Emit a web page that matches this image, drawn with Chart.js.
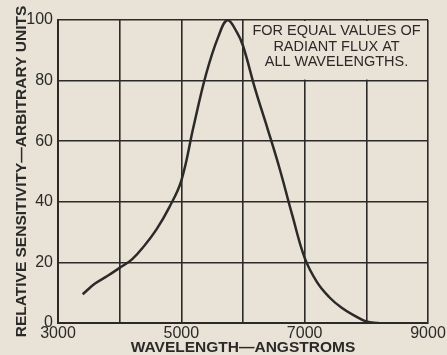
<!DOCTYPE html>
<html>
<head>
<meta charset="utf-8">
<script src="https://cdn.jsdelivr.net/npm/chart.js@4/dist/chart.umd.min.js"></script>
<style>
    html, body { margin: 0; padding: 0; background: #e8e2d7; }
    #wrap { width: 447px; height: 355px; position: relative; }
</style>
</head>
<body>
<div id="wrap"><canvas id="myChart"></canvas></div>
<script>
// wavelength in angstroms
let wavelengths = [3400, 3600, 3800, 4000, 4200, 4400, 4600, 4800, 5000, 5200, 5400, 5600, 5750, 5900, 6000, 6200, 6400, 6600, 6800, 7000, 7200, 7400, 7600, 7800, 8000, 8200]
let sensitivity = [9.5, 13, 15.5, 18.2, 21, 25.5, 31, 38, 47, 65, 82, 94.5, 100, 96, 91.5, 77, 64, 50.5, 35.5, 21.5, 13.5, 8.5, 5, 2.5, 0.5, 0]

let xTickLabels = [3000, 5000, 7000, 9000]
let yTickLabels = [0, 20, 40, 60, 80, 100]
let noteLines = ['FOR EQUAL VALUES OF', 'RADIANT FLUX AT', 'ALL WAVELENGTHS.']

const ink = '#2b2a28'
const paper = '#e8e2d7'

// the top-right cell holds the note, so its grid lines are blanked out
const notePlugin = {
    id: 'note',
    beforeDatasetsDraw: (chart) => {
        let ctx = chart.ctx
        let x = chart.scales.x
        let y = chart.scales.y
        let left = x.getPixelForValue(6000)
        let right = x.getPixelForValue(9000)
        let top = y.getPixelForValue(100)
        let bottom = y.getPixelForValue(80)
        ctx.save()
        ctx.fillStyle = paper
        ctx.fillRect(left + 1, top + 1, right - left - 2, bottom - top - 2)
        ctx.fillStyle = ink
        ctx.font = '14.5px "Liberation Sans"'
        ctx.textAlign = 'center'
        ctx.textBaseline = 'middle'
        let cx = (left + right) / 2 + 1
        noteLines.forEach((line, i) => {
            ctx.fillText(line, cx, top + 11 + i * 15.5)
        })
        ctx.restore()
    }
}

window.addEventListener('DOMContentLoaded', (event) => {
    let ctx = document.getElementById('myChart')
    let points = wavelengths.map((w, i) => ({ x: w, y: sensitivity[i] }))

    let cfg = {
        type: 'line',
        data: {
            datasets: [
                {
                    data: points,
                    borderColor: ink,
                    borderWidth: 2.5,
                    pointRadius: 0,
                    tension: 0.4,
                    fill: false
                }
            ]
        },
        options: {
            responsive: true,
            maintainAspectRatio: false,
            animation: false,
            layout: {
                padding: { top: 20, right: 19, left: 0, bottom: 0 }
            },
            plugins: {
                legend: { display: false },
                tooltip: { enabled: false }
            },
            scales: {
                x: {
                    type: 'linear',
                    min: 3000,
                    max: 9000,
                    afterFit: (scale) => { scale.height = 32 },
                    afterBuildTicks: (scale) => {
                        scale.ticks = [3000, 4000, 5000, 6000, 7000, 8000, 9000].map(v => ({ value: v }))
                    },
                    ticks: {
                        color: ink,
                        font: { family: '"Liberation Sans"', size: 16 },
                        padding: 1,
                        maxRotation: 0,
                        autoSkip: false,
                        callback: (value) => xTickLabels.includes(value) ? String(value) : ''
                    },
                    grid: { color: ink, lineWidth: 1.6, drawTicks: false },
                    border: { color: ink, width: 2 },
                    title: {
                        display: true,
                        text: 'WAVELENGTH—ANGSTROMS',
                        color: ink,
                        font: { family: '"Liberation Sans"', size: 15.5, weight: 'bold', lineHeight: 1 },
                        padding: { top: 0, bottom: 0 }
                    }
                },
                y: {
                    min: 0,
                    max: 100,
                    afterFit: (scale) => { scale.width = 58 },
                    afterBuildTicks: (scale) => {
                        scale.ticks = yTickLabels.map(v => ({ value: v }))
                    },
                    ticks: {
                        color: ink,
                        font: { family: '"Liberation Sans"', size: 16 },
                        padding: 5
                    },
                    grid: { color: ink, lineWidth: 1.6, drawTicks: false },
                    border: { color: ink, width: 2 },
                    title: {
                        display: true,
                        text: 'RELATIVE SENSITIVITY—ARBITRARY UNITS',
                        color: ink,
                        font: { family: '"Liberation Sans"', size: 15.5, weight: 'bold', lineHeight: 1 },
                        padding: { top: 14, bottom: 0 }
                    }
                }
            }
        },
        plugins: [notePlugin]
    }
    new Chart(ctx, cfg)
})
</script>
</body>
</html>
